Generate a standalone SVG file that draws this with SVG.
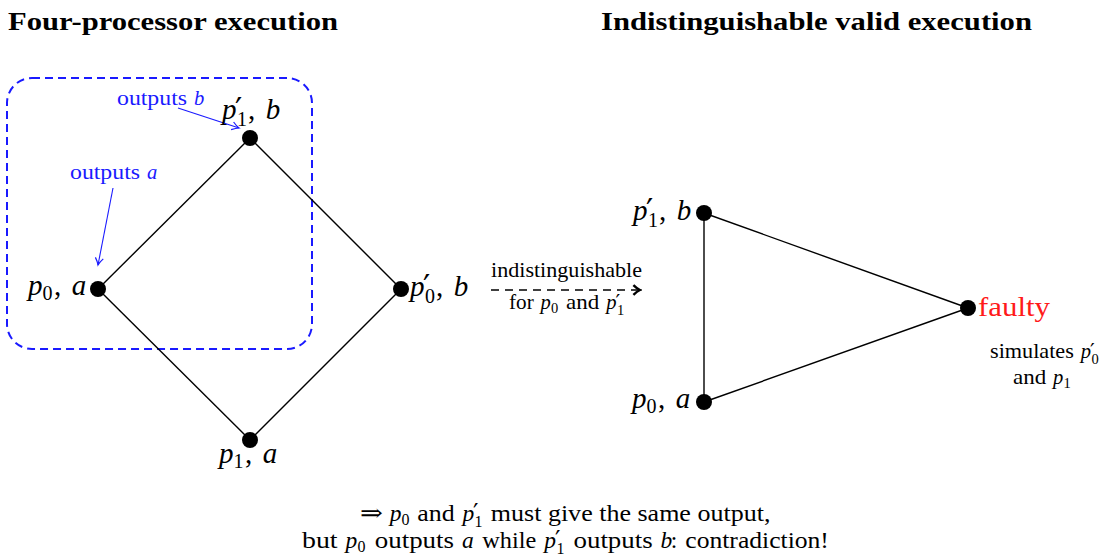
<svg xmlns="http://www.w3.org/2000/svg" width="1099" height="557" viewBox="0 0 1099 557" font-family="'Liberation Serif', 'DejaVu Serif', serif">
<style>
text{font-family:"Liberation Serif","DejaVu Serif",serif;fill:#000}
.title{font-size:26px;font-weight:bold;font-family:"Liberation Serif",serif}
.L{font-size:29px;font-family:"Liberation Serif",serif}
.Ls{font-size:20px;font-family:"Liberation Serif",serif;font-style:normal}
.Lp{font-size:32px;font-family:"DejaVu Serif",serif;font-style:normal}
.B{font-size:23.5px;font-family:"Liberation Serif",serif}
.Bs{font-size:16px;font-family:"Liberation Serif",serif;font-style:normal}
.Bp{font-size:24px;font-family:"DejaVu Serif",serif;font-style:normal}
.S{font-size:20.6px;font-family:"Liberation Serif",serif}
.Ss{font-size:14.5px;font-family:"Liberation Serif",serif;font-style:normal}
.Sp{font-size:21px;font-family:"DejaVu Serif",serif;font-style:normal}
.i{font-style:italic}
.n{font-style:normal}
.blue{fill:#1a1aff}
.red{fill:#ff1a1a}
.edge{stroke:#000;stroke-width:1.4;fill:none}
.node{fill:#000}
</style>
<defs>
<marker id="ba" viewBox="0 0 10 10" refX="8" refY="5" markerWidth="10" markerHeight="10" orient="auto" markerUnits="userSpaceOnUse">
<path d="M1,1 Q5,4 8,5 Q5,6 1,9" fill="none" stroke="#1a1aff" stroke-width="1.2"/>
</marker>
<marker id="ka" viewBox="0 0 10 10" refX="8" refY="5" markerWidth="12" markerHeight="12" orient="auto" markerUnits="userSpaceOnUse">
<path d="M2.5,1 Q5.5,4 8,5 Q5.5,6 2.5,9" fill="none" stroke="#000" stroke-width="2"/>
</marker>
</defs>
<g id="titles">
<text class="title" x="8" y="30" textLength="330" lengthAdjust="spacingAndGlyphs">Four-processor execution</text>
<text class="title" x="601" y="30" textLength="431" lengthAdjust="spacingAndGlyphs">Indistinguishable valid execution</text>
</g>
<rect id="group-box" x="7" y="78" width="305" height="271" rx="25" ry="25" fill="none" stroke="#1a1aff" stroke-width="2" stroke-dasharray="8,5"/>
<g id="connectors">
<line class="edge" x1="98" y1="289" x2="250" y2="138"/>
<line class="edge" x1="250" y1="138" x2="401" y2="289"/>
<line class="edge" x1="98" y1="289" x2="250" y2="440"/>
<line class="edge" x1="250" y1="440" x2="401" y2="289"/>
<line class="edge" x1="704" y1="213" x2="704" y2="402"/>
<line class="edge" x1="704" y1="213" x2="968" y2="308"/>
<line class="edge" x1="704" y1="402" x2="968" y2="308"/>
<line x1="491" y1="290" x2="640" y2="290" stroke="#000" stroke-width="1.7" stroke-dasharray="8,6" marker-end="url(#ka)"/>
<line x1="113" y1="188" x2="98" y2="265" stroke="#1a1aff" stroke-width="1.1" marker-end="url(#ba)"/>
<line x1="178" y1="108" x2="239" y2="128" stroke="#1a1aff" stroke-width="1.1" marker-end="url(#ba)"/>
</g>
<g id="node-p1prime-left">
<circle class="node" cx="250" cy="138" r="8"/>
<text class="L i"><tspan x="222" y="119">p</tspan><tspan class="Lp" x="235" y="120">′</tspan><tspan class="Ls" x="237" y="126">1</tspan><tspan class="n" x="248.1" y="119">,</tspan><tspan x="265.8" y="119">b</tspan></text>
</g>
<g id="node-p0-left">
<circle class="node" cx="98" cy="289" r="8"/>
<text class="L i"><tspan x="28" y="295">p</tspan><tspan class="Ls" x="42.6" y="300">0</tspan><tspan class="n" x="54.1" y="295">,</tspan><tspan x="71.8" y="295">a</tspan></text>
</g>
<g id="node-p0prime-left">
<circle class="node" cx="401" cy="289" r="8"/>
<text class="L i"><tspan x="410" y="296">p</tspan><tspan class="Lp" x="423" y="297">′</tspan><tspan class="Ls" x="425" y="303">0</tspan><tspan class="n" x="436.1" y="296">,</tspan><tspan x="453.8" y="296">b</tspan></text>
</g>
<g id="node-p1-left">
<circle class="node" cx="250" cy="440" r="8"/>
<text class="L i"><tspan x="219" y="463">p</tspan><tspan class="Ls" x="233.6" y="468">1</tspan><tspan class="n" x="245.1" y="463">,</tspan><tspan x="262.8" y="463">a</tspan></text>
</g>
<g id="label-outputs-b">
<text class="S blue" x="117" y="105" textLength="70" lengthAdjust="spacingAndGlyphs">outputs</text>
<text class="S blue i" x="194" y="105">b</text>
</g>
<g id="label-outputs-a">
<text class="S blue" x="70" y="179" textLength="70" lengthAdjust="spacingAndGlyphs">outputs</text>
<text class="S blue i" x="147" y="179">a</text>
</g>
<g id="label-indist">
<text class="S" x="491" y="277" textLength="151" lengthAdjust="spacingAndGlyphs">indistinguishable</text>
<text class="S" x="509" y="309" textLength="24.7" lengthAdjust="spacingAndGlyphs">for</text>
<text class="S i"><tspan x="540.6" y="309">p</tspan><tspan class="Ss" x="551" y="312.5">0</tspan></text>
<text class="S" x="566.1" y="309" textLength="33.2" lengthAdjust="spacingAndGlyphs">and</text>
<text class="S i"><tspan x="606.2" y="309">p</tspan><tspan class="Sp" x="615.5" y="309">′</tspan><tspan class="Ss" x="617" y="314.5">1</tspan></text>
</g>
<g id="node-p1prime-right">
<circle class="node" cx="704" cy="213" r="8"/>
<text class="L i"><tspan x="633" y="220">p</tspan><tspan class="Lp" x="646" y="221">′</tspan><tspan class="Ls" x="648" y="227">1</tspan><tspan class="n" x="659.1" y="220">,</tspan><tspan x="676.8" y="220">b</tspan></text>
</g>
<g id="node-p0-right">
<circle class="node" cx="704" cy="402" r="8"/>
<text class="L i"><tspan x="632" y="408">p</tspan><tspan class="Ls" x="646.6" y="413">0</tspan><tspan class="n" x="658.1" y="408">,</tspan><tspan x="675.8" y="408">a</tspan></text>
</g>
<g id="node-faulty">
<circle class="node" cx="968" cy="308" r="8"/>
<text class="red" x="978" y="316" font-size="28" textLength="72" lengthAdjust="spacingAndGlyphs">faulty</text>
<text class="S" x="990" y="358" textLength="83.8" lengthAdjust="spacingAndGlyphs">simulates</text>
<text class="S i"><tspan x="1080.7" y="358">p</tspan><tspan class="Sp" x="1090" y="358">′</tspan><tspan class="Ss" x="1091.5" y="363.5">0</tspan></text>
<text class="S" x="1013" y="384" textLength="33.2" lengthAdjust="spacingAndGlyphs">and</text>
<text class="S i"><tspan x="1053" y="384">p</tspan><tspan class="Ss" x="1063.4" y="387.5">1</tspan></text>
</g>
<g id="conclusion">
<text class="B" x="360" y="521" style="font-family:'DejaVu Serif',serif" textLength="23" lengthAdjust="spacingAndGlyphs">⇒</text>
<text class="B i"><tspan x="389.7" y="521">p</tspan><tspan class="Bs" x="401.4" y="525">0</tspan></text>
<text class="B" x="417.2" y="521" textLength="37.4" lengthAdjust="spacingAndGlyphs">and</text>
<text class="B i"><tspan x="462.4" y="521">p</tspan><tspan class="Bp" x="473" y="521">′</tspan><tspan class="Bs" x="474.6" y="527">1</tspan></text>
<text class="B" x="490.8" y="521" textLength="279.6" lengthAdjust="spacingAndGlyphs">must give the same output,</text>
<text class="B" x="302" y="548" textLength="35.6" lengthAdjust="spacingAndGlyphs">but</text>
<text class="B i"><tspan x="345.5" y="548">p</tspan><tspan class="Bs" x="357.4" y="552">0</tspan></text>
<text class="B" x="374.8" y="548" textLength="79.2" lengthAdjust="spacingAndGlyphs">outputs</text>
<text class="B i" x="461.9" y="548">a</text>
<text class="B" x="482.3" y="548" textLength="54" lengthAdjust="spacingAndGlyphs">while</text>
<text class="B i"><tspan x="544.2" y="548">p</tspan><tspan class="Bp" x="555" y="548">′</tspan><tspan class="Bs" x="556.6" y="554">1</tspan></text>
<text class="B" x="573.5" y="548" textLength="79.2" lengthAdjust="spacingAndGlyphs">outputs</text>
<text class="B"><tspan class="i" x="660.6" y="548">b</tspan><tspan x="670.8" y="548">:</tspan></text>
<text class="B" x="685.3" y="548" textLength="143.6" lengthAdjust="spacingAndGlyphs">contradiction!</text>
</g>
</svg>
